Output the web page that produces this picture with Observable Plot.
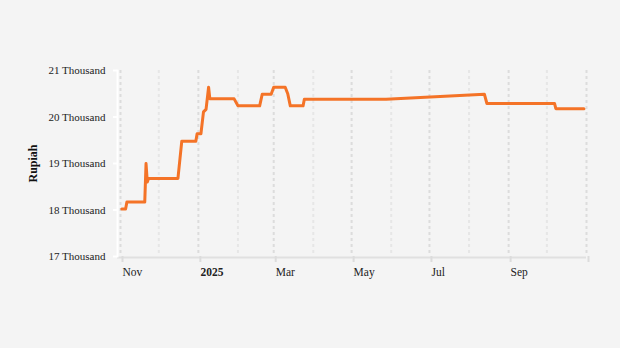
<!DOCTYPE html>
<html>
<head>
<meta charset="utf-8">
<script src="https://cdn.jsdelivr.net/npm/d3@7"></script>
<script src="https://cdn.jsdelivr.net/npm/@observablehq/plot@0.6"></script>
<style>
  html, body { margin: 0; padding: 0; background: #f4f4f4; }
  #chart { width: 620px; height: 348px; }
</style>
</head>
<body>
<div id="chart"></div>
<script>
// Rupiah per USD (approx)
const dates = [
  "2024-11-02","2024-11-05","2024-11-06","2024-11-20","2024-11-21","2024-11-22","2024-11-23",
  "2024-12-16","2024-12-19","2024-12-30","2024-12-31","2025-01-03","2025-01-05","2025-01-07",
  "2025-01-09","2025-01-10","2025-01-29","2025-02-01","2025-02-18","2025-02-20","2025-02-27",
  "2025-03-01","2025-03-10","2025-03-12","2025-03-14","2025-03-24","2025-03-25","2025-05-28",
  "2025-08-13","2025-08-15","2025-10-07","2025-10-08","2025-10-30"
];
const values = [
  18020, 18020, 18170, 18170, 19000, 18600, 18680,
  18680, 19480, 19480, 19640, 19640, 20110, 20165,
  20640, 20390, 20390, 20240, 20240, 20490, 20490,
  20640, 20640, 20500, 20240, 20240, 20380, 20380,
  20490, 20290, 20290, 20180, 20180
];
const yTicks = [17000, 18000, 19000, 20000, 21000];
const xDomain = ["2024-11-01", "2025-11-01"];
const xTickLabels = ["Nov", "2025", "Mar", "May", "Jul", "Sep", ""];

const parse = d3.utcParse("%Y-%m-%d");
const data = dates.map((d, i) => ({date: parse(d), value: values[i]}));
const domain = xDomain.map(parse);
const months = d3.utcMonth.range(domain[0], d3.utcDay.offset(domain[1], 1));
const majors = months.filter((d, i) => i % 2 === 0);
const minors = months.filter((d, i) => i % 2 === 1);
const labelOf = new Map(majors.map((d, i) => [+d, xTickLabels[i]]));

const chart = Plot.plot({
  width: 620,
  height: 348,
  marginLeft: 117,
  marginRight: 34,
  marginTop: 70,
  marginBottom: 92,
  insetLeft: 3,
  style: {background: "#f4f4f4", fontFamily: "'Liberation Serif', 'Times New Roman', serif", fontSize: "11px", color: "#222"},
  x: {type: "utc", domain},
  y: {domain: [17000, 21000]},
  marks: [
    Plot.ruleX(minors, {stroke: "#e6e6e6", strokeWidth: 2, strokeDasharray: "3,3"}),
    Plot.ruleX(majors, {stroke: "#dcdcdc", strokeWidth: 2, strokeDasharray: "3,3"}),
    Plot.ruleY([17000], {stroke: "#e0e0e0", strokeWidth: 2, dy: 1}),
    Plot.frame({anchor: "left", stroke: "white", strokeWidth: 2}),
    Plot.axisY({ticks: yTicks, tickSize: 4, tickPadding: 8, stroke: "white", strokeWidth: 2,
      tickFormat: d => `${d / 1000} Thousand`, label: null}),
    Plot.axisX({ticks: majors, tickSize: 6, tickPadding: 5, stroke: "#dcdcdc", strokeWidth: 2,
      textAnchor: "start", dx: 2, fontSize: 11.5, tickFormat: d => labelOf.get(+d), label: null}),
    Plot.text(["Rupiah"], {frameAnchor: "left", textAnchor: "middle", rotate: -90, dx: -84, fontWeight: "bold", fontSize: 12, fill: "#111"}),
    Plot.line(data, {x: "date", y: "value", stroke: "#f47327", strokeWidth: 3, strokeLinejoin: "round"})
  ]
});
d3.select(chart).selectAll("text").filter(function() { return this.textContent === "2025"; })
  .attr("font-weight", "bold");
document.getElementById("chart").appendChild(chart);
</script>
</body>
</html>
